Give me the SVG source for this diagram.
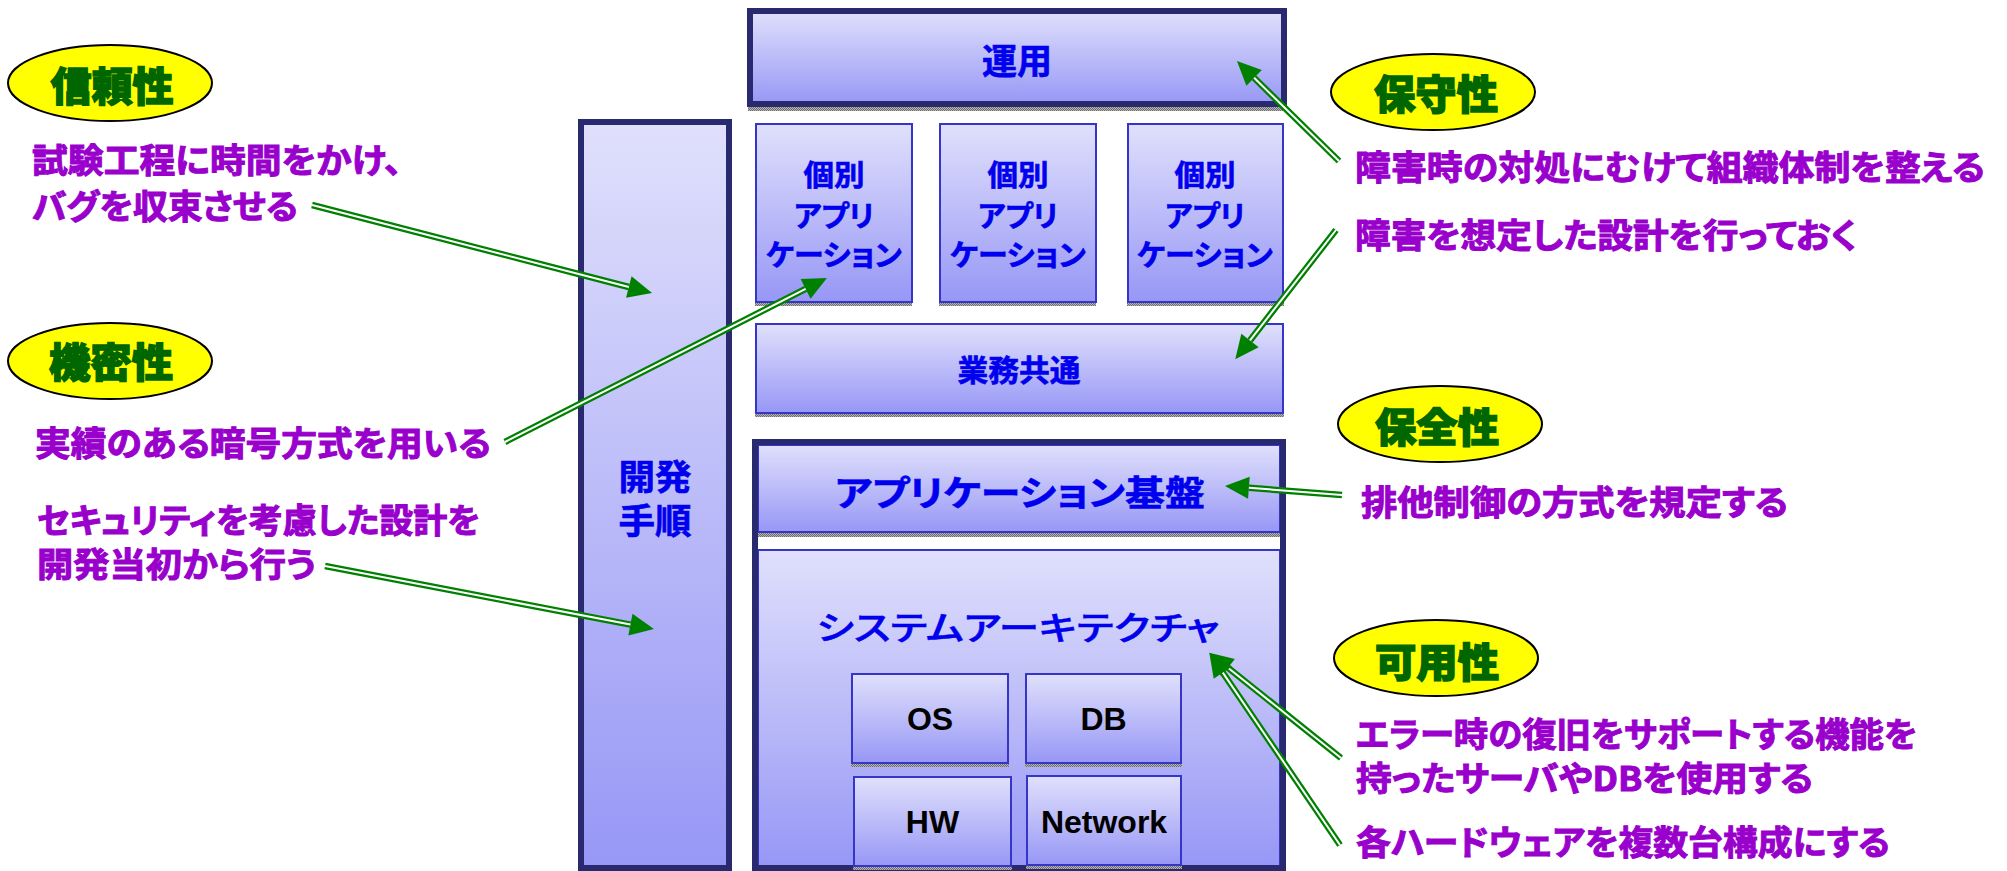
<svg xmlns="http://www.w3.org/2000/svg" width="2007" height="871" viewBox="0 0 2007 871">
<style>
.lbl{font-family:"Noto Sans CJK JP","Noto Sans CJK SC",sans-serif;font-weight:700;fill:#9900cc;stroke:#9900cc;stroke-width:1;font-size:34px;font-feature-settings:"palt";}
.ttl{font-family:"Noto Sans CJK JP","Noto Sans CJK SC",sans-serif;font-weight:900;fill:#006600;stroke:#006600;stroke-width:1.4;font-size:40px;text-anchor:middle;}
.ell{fill:#ffff00;stroke:#000;stroke-width:2;}
.nt{font-family:"Noto Sans CJK JP","Noto Sans CJK SC",sans-serif;font-weight:700;fill:#0000ee;stroke:#0000ee;stroke-width:0.6;text-anchor:middle;font-feature-settings:"palt";}
.en{font-family:"Liberation Sans",Arial,sans-serif;font-weight:700;fill:#000;font-size:32px;text-anchor:middle;}
.thick{fill:url(#g);stroke:#29296f;stroke-width:6;}
.thin{fill:url(#g);stroke:#3535c8;stroke-width:2;}
.shd{fill:url(#dots);}
.cg{stroke:#008000;stroke-width:6.5;fill:none;}
.cw{stroke:#fff;stroke-width:2;fill:none;}
</style>
<defs>
<linearGradient id="g" x1="0" y1="0" x2="0" y2="1">
<stop offset="0" stop-color="#e0e0fc"/>
<stop offset="1" stop-color="#9797f6"/>
</linearGradient>
<pattern id="dots" width="2" height="2" patternUnits="userSpaceOnUse">
<rect width="2" height="2" fill="#b4b4b4"/>
<rect width="1" height="1" fill="#6e6e6e"/>
<rect x="1" y="1" width="1" height="1" fill="#6e6e6e"/>
</pattern>
<marker id="ah" markerUnits="userSpaceOnUse" markerWidth="26" markerHeight="24" refX="0" refY="11" orient="auto" overflow="visible">
<path d="M0,0 L24,11 L0,22 z" fill="#008000"/>
</marker>
</defs>
<rect width="2007" height="871" fill="#fff"/>

<g id="kaihatsu">
<rect class="thick" x="581" y="122" width="148" height="746"/>
<text class="nt" font-size="35" x="655" y="490" textLength="73" lengthAdjust="spacingAndGlyphs">開発</text>
<text class="nt" font-size="35" x="655" y="534" textLength="73" lengthAdjust="spacingAndGlyphs">手順</text>
</g>

<g id="unyou">
<rect class="shd" x="748" y="107" width="539" height="4"/>
<rect class="thick" x="750" y="11" width="534" height="93"/>
<text class="nt" font-size="35" x="1017" y="74" textLength="70" lengthAdjust="spacingAndGlyphs">運用</text>
</g>

<g id="app1">
<rect class="shd" x="755" y="302" width="157" height="4"/>
<rect class="thin" x="756" y="124" width="156" height="178"/>
<text class="nt" font-size="29" x="834" y="186" textLength="61" lengthAdjust="spacingAndGlyphs">個別</text>
<text class="nt" font-size="29" x="834" y="227" textLength="80" lengthAdjust="spacingAndGlyphs">アプリ</text>
<text class="nt" font-size="29" x="834" y="266" textLength="136" lengthAdjust="spacingAndGlyphs">ケーション</text>
</g>
<g id="app2">
<rect class="shd" x="939" y="302" width="157" height="4"/>
<rect class="thin" x="940" y="124" width="156" height="178"/>
<text class="nt" font-size="29" x="1018" y="186" textLength="61" lengthAdjust="spacingAndGlyphs">個別</text>
<text class="nt" font-size="29" x="1018" y="227" textLength="80" lengthAdjust="spacingAndGlyphs">アプリ</text>
<text class="nt" font-size="29" x="1018" y="266" textLength="136" lengthAdjust="spacingAndGlyphs">ケーション</text>
</g>
<g id="app3">
<rect class="shd" x="1127" y="302" width="157" height="4"/>
<rect class="thin" x="1128" y="124" width="155" height="178"/>
<text class="nt" font-size="29" x="1205" y="186" textLength="61" lengthAdjust="spacingAndGlyphs">個別</text>
<text class="nt" font-size="29" x="1205" y="227" textLength="80" lengthAdjust="spacingAndGlyphs">アプリ</text>
<text class="nt" font-size="29" x="1205" y="266" textLength="136" lengthAdjust="spacingAndGlyphs">ケーション</text>
</g>

<g id="gyoumu">
<rect class="shd" x="755" y="413" width="529" height="4"/>
<rect class="thin" x="756" y="324" width="527" height="89"/>
<text class="nt" font-size="30" x="1019" y="381" textLength="123" lengthAdjust="spacingAndGlyphs">業務共通</text>
</g>

<g id="platform">
<rect x="755" y="442" width="528" height="426" fill="#fff"/>
<g id="kiban">
<rect class="shd" x="758" y="532" width="522" height="5"/>
<rect class="thin" x="758" y="445" width="522" height="87"/>
<text class="nt" font-size="35" x="1020" y="506" textLength="370" lengthAdjust="spacingAndGlyphs">アプリケーション基盤</text>
</g>
<g id="sysarch">
<rect class="thin" x="758" y="550" width="522" height="316"/>
<text class="nt" font-size="33" x="1018" y="640" textLength="403" lengthAdjust="spacingAndGlyphs" style="font-weight:500;stroke-width:0.5">システムアーキテクチャ</text>
</g>
<rect x="755" y="442" width="528" height="426" fill="none" stroke="#29296f" stroke-width="6"/>
</g>

<g id="os">
<rect class="shd" x="851" y="763" width="158" height="4"/>
<rect class="thin" x="852" y="674" width="156" height="89"/>
<text class="en" x="930" y="730">OS</text>
</g>
<g id="db">
<rect class="shd" x="1025" y="763" width="157" height="4"/>
<rect class="thin" x="1026" y="674" width="155" height="89"/>
<text class="en" x="1103.5" y="730">DB</text>
</g>
<g id="hw">
<rect class="shd" x="853" y="866" width="159" height="4"/>
<rect class="thin" x="854" y="777" width="157" height="89"/>
<text class="en" x="932.5" y="833">HW</text>
</g>
<g id="network">
<rect class="shd" x="1026" y="865" width="156" height="4"/>
<rect class="thin" x="1027" y="776" width="154" height="89"/>
<text class="en" x="1104" y="833">Network</text>
</g>

<g id="shinraisei">
<ellipse class="ell" cx="110" cy="83" rx="102" ry="38"/>
<text class="ttl" x="112" y="101" textLength="123" lengthAdjust="spacingAndGlyphs">信頼性</text>
</g>
<g id="shinrai-text">
<text class="lbl" x="32" y="173" textLength="370" lengthAdjust="spacingAndGlyphs">試験工程に時間をかけ、</text>
<text class="lbl" x="32" y="219" textLength="266" lengthAdjust="spacingAndGlyphs">バグを収束させる</text>
</g>
<g id="kimitsusei">
<ellipse class="ell" cx="110" cy="361" rx="102" ry="38"/>
<text class="ttl" x="111" y="377" textLength="124" lengthAdjust="spacingAndGlyphs">機密性</text>
</g>
<g id="kimitsu-text">
<text class="lbl" x="35" y="456" textLength="456" lengthAdjust="spacingAndGlyphs">実績のある暗号方式を用いる</text>
<text class="lbl" x="37" y="533" textLength="443" lengthAdjust="spacingAndGlyphs">セキュリティを考慮した設計を</text>
<text class="lbl" x="37" y="577" textLength="279" lengthAdjust="spacingAndGlyphs">開発当初から行う</text>
</g>

<g id="hoshusei">
<ellipse class="ell" cx="1433" cy="92" rx="102" ry="38"/>
<text class="ttl" x="1436" y="109" textLength="124" lengthAdjust="spacingAndGlyphs">保守性</text>
</g>
<g id="hoshu-text">
<text class="lbl" x="1355" y="180" textLength="630" lengthAdjust="spacingAndGlyphs">障害時の対処にむけて組織体制を整える</text>
<text class="lbl" x="1355" y="248" textLength="502" lengthAdjust="spacingAndGlyphs">障害を想定した設計を行っておく</text>
</g>
<g id="hozensei">
<ellipse class="ell" cx="1440" cy="424" rx="102" ry="38"/>
<text class="ttl" x="1437" y="442" textLength="124" lengthAdjust="spacingAndGlyphs">保全性</text>
</g>
<g id="hozen-text">
<text class="lbl" x="1361" y="515" textLength="427" lengthAdjust="spacingAndGlyphs">排他制御の方式を規定する</text>
</g>
<g id="kayousei">
<ellipse class="ell" cx="1436" cy="658" rx="102" ry="38"/>
<text class="ttl" x="1437" y="677" textLength="124" lengthAdjust="spacingAndGlyphs">可用性</text>
</g>
<g id="kayou-text">
<text class="lbl" x="1356" y="747" textLength="561" lengthAdjust="spacingAndGlyphs">エラー時の復旧をサポートする機能を</text>
<text class="lbl" x="1356" y="791" textLength="457" lengthAdjust="spacingAndGlyphs">持ったサーバやDBを使用する</text>
<text class="lbl" x="1356" y="855" textLength="534" lengthAdjust="spacingAndGlyphs">各ハードウェアを複数台構成にする</text>
</g>

<g id="connectors">
<line class="cg" x1="312" y1="205" x2="628.8" y2="287" marker-end="url(#ah)"/>
<line class="cw" x1="312" y1="205" x2="628.8" y2="287"/>
<line class="cg" x1="505" y1="442" x2="805.6" y2="288.9" marker-end="url(#ah)"/>
<line class="cw" x1="505" y1="442" x2="805.6" y2="288.9"/>
<line class="cg" x1="325" y1="566" x2="630.4" y2="624.6" marker-end="url(#ah)"/>
<line class="cw" x1="325" y1="566" x2="630.4" y2="624.6"/>
<line class="cg" x1="1339" y1="161" x2="1254.1" y2="77.8" marker-end="url(#ah)"/>
<line class="cw" x1="1339" y1="161" x2="1254.1" y2="77.8"/>
<line class="cg" x1="1336" y1="230" x2="1250" y2="340.4" marker-end="url(#ah)"/>
<line class="cw" x1="1336" y1="230" x2="1250" y2="340.4"/>
<line class="cg" x1="1342" y1="495" x2="1248.9" y2="487.8" marker-end="url(#ah)"/>
<line class="cw" x1="1342" y1="495" x2="1248.9" y2="487.8"/>
<line class="cg" x1="1341" y1="758" x2="1228" y2="667.7" marker-end="url(#ah)"/>
<line class="cw" x1="1341" y1="758" x2="1228" y2="667.7"/>
<line class="cg" x1="1340" y1="845" x2="1222.8" y2="672.6" marker-end="url(#ah)"/>
<line class="cw" x1="1340" y1="845" x2="1222.8" y2="672.6"/>
</g>
</svg>
